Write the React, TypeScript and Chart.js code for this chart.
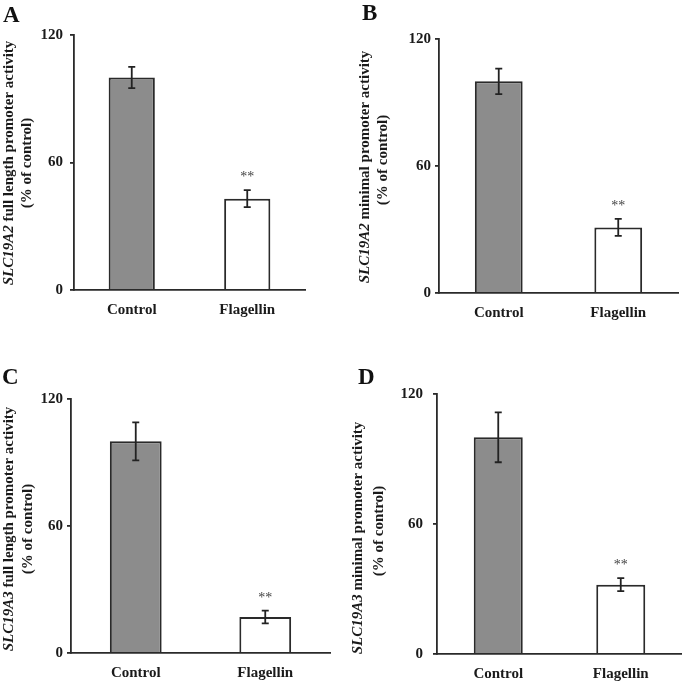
import React, { useEffect, useRef } from "react";
import { Chart, registerables } from "chart.js";

Chart.register(...registerables);

// ---------- data ----------
const categories = ["Control", "Flagellin"];
const panelLetters = ["A", "B", "C", "D"];
const geneNames = ["SLC19A2", "SLC19A2", "SLC19A3", "SLC19A3"];
const titleRest = [
  " full length promoter activity",
  " minimal promoter activity",
  " full length promoter activity",
  " minimal promoter activity",
];
const titleLine2 = "(% of control)";
const meansA = [100, 43];
const errA = [5, 4];
const meansB = [100, 31];
const errB = [6, 4];
const meansC = [100, 17];
const errC = [9, 3];
const meansD = [100, 32];
const errD = [11.5, 3];
const significance = ["", "**"];
const yTickValues = [0, 60, 120];
const yMin = 0;
const yMax = 120;

const allMeans = [meansA, meansB, meansC, meansD];
const allErrs = [errA, errB, errC, errD];

// ---------- layout (canvas-relative pixels) ----------
const FONT = '"Liberation Serif", "Times New Roman", serif';
const layouts = [
  { ox: 0, oy: 0, left: 74, top: 35, right: 305, bottom: 290, tickPad: 7, lx: 3, ly: 22, t1x: 9, t2x: 27, t1y: 163, t2y: 163 },
  { ox: 341, oy: 0, left: 98, top: 39, right: 337, bottom: 293, tickPad: 4, lx: 21, ly: 20, t1x: 24, t2x: 42, t1y: 167, t2y: 160 },
  { ox: 0, oy: 341, left: 71, top: 58, right: 330, bottom: 312, tickPad: 4, lx: 2, ly: 43, t1x: 9, t2x: 28, t1y: 188, t2y: 188 },
  { ox: 341, oy: 341, left: 96, top: 53, right: 341, bottom: 313, tickPad: 10, lx: 17, ly: 43, t1x: 17, t2x: 38, t1y: 197, t2y: 190 },
];
const SIZE = 341;

function makeOverlay(idx: number) {
  const L = layouts[idx];
  const means = allMeans[idx];
  const errs = allErrs[idx];
  return {
    id: "overlay" + idx,
    afterDatasetsDraw(chart: any) {
      const ctx = chart.ctx;
      const meta = chart.getDatasetMeta(0);
      const y = chart.scales.y;
      ctx.save();
      ctx.strokeStyle = "#222";
      ctx.lineWidth = 1.8;
      means.forEach((m, i) => {
        const x = meta.data[i].x;
        const yt = y.getPixelForValue(m + errs[i]);
        const yb = y.getPixelForValue(m - errs[i]);
        ctx.beginPath();
        ctx.moveTo(x, yt);
        ctx.lineTo(x, yb);
        ctx.moveTo(x - 3.5, yt);
        ctx.lineTo(x + 3.5, yt);
        ctx.moveTo(x - 3.5, yb);
        ctx.lineTo(x + 3.5, yb);
        ctx.stroke();
        if (significance[i]) {
          ctx.fillStyle = "#444";
          ctx.font = "14px " + FONT;
          ctx.textAlign = "center";
          ctx.textBaseline = "alphabetic";
          ctx.fillText(significance[i], x, yt - 9);
        }
      });
      ctx.restore();
    },
    afterDraw(chart: any) {
      const ctx = chart.ctx;
      ctx.save();
      // panel letter
      ctx.fillStyle = "#111";
      ctx.font = "bold 23px " + FONT;
      ctx.textAlign = "left";
      ctx.textBaseline = "alphabetic";
      ctx.fillText(panelLetters[idx], L.lx, L.ly);
      // y title line 1 (mixed italic)
      const italicFont = "italic bold 15px " + FONT;
      const boldFont = "bold 15px " + FONT;
      ctx.fillStyle = "#1a1a1a";
      ctx.font = italicFont;
      const w1 = ctx.measureText(geneNames[idx]).width;
      ctx.font = boldFont;
      const w2 = ctx.measureText(titleRest[idx]).width;
      ctx.save();
      ctx.translate(L.t1x, L.t1y);
      ctx.rotate(-Math.PI / 2);
      ctx.textBaseline = "middle";
      ctx.textAlign = "left";
      const start = -(w1 + w2) / 2;
      ctx.font = italicFont;
      ctx.fillText(geneNames[idx], start, 0);
      ctx.font = boldFont;
      ctx.fillText(titleRest[idx], start + w1, 0);
      ctx.restore();
      // y title line 2
      ctx.save();
      ctx.translate(L.t2x, L.t2y);
      ctx.rotate(-Math.PI / 2);
      ctx.textBaseline = "middle";
      ctx.textAlign = "center";
      ctx.font = boldFont;
      ctx.fillText(titleLine2, 0, 0);
      ctx.restore();
      ctx.restore();
    },
  };
}

function Panel({ idx }: { idx: number }) {
  const ref = useRef<HTMLCanvasElement | null>(null);
  useEffect(() => {
    const L = layouts[idx];
    const chart = new Chart(ref.current as HTMLCanvasElement, {
      type: "bar",
      data: {
        labels: categories,
        datasets: [
          {
            data: allMeans[idx],
            backgroundColor: ["#8c8c8c", "#ffffff"],
            borderColor: "#2a2a2a",
            borderWidth: 2,
            barPercentage: 0.4,
            categoryPercentage: 1,
          },
        ],
      },
      options: {
        animation: false,
        responsive: false,
        maintainAspectRatio: false,
        events: [],
        layout: {
          padding: { left: 0, top: L.top, right: SIZE - L.right, bottom: 0 },
        },
        plugins: { legend: { display: false }, tooltip: { enabled: false }, title: { display: false } },
        scales: {
          x: {
            grid: { display: false },
            border: { display: true, color: "#2a2a2a", width: 1.8 },
            ticks: { color: "#1a1a1a", padding: 3, font: { family: FONT, size: 15, weight: "bold" } },
            afterFit: (s: any) => {
              s.height = SIZE - L.bottom;
            },
          },
          y: {
            min: yMin,
            max: yMax,
            grid: { display: true, drawOnChartArea: false, drawTicks: true, tickLength: 4, color: "#2a2a2a", lineWidth: 1.8 },
            border: { display: true, color: "#2a2a2a", width: 1.8 },
            ticks: { color: "#1a1a1a", padding: L.tickPad, font: { family: FONT, size: 15, weight: "bold" } },
            afterBuildTicks: (s: any) => {
              s.ticks = yTickValues.map((v) => ({ value: v }));
            },
            afterFit: (s: any) => {
              s.width = L.left;
            },
          },
        },
      },
      plugins: [makeOverlay(idx)],
    } as any);
    return () => chart.destroy();
  }, [idx]);
  const L = layouts[idx];
  return (
    <canvas
      ref={ref}
      width={SIZE}
      height={SIZE}
      style={{ position: "absolute", left: L.ox, top: L.oy, width: SIZE, height: SIZE }}
    />
  );
}

export default function App() {
  return (
    <div style={{ position: "absolute", left: 0, top: 0, width: 682, height: 682, background: "#fff", overflow: "hidden" }}>
      {[0, 1, 2, 3].map((i) => (
        <Panel key={i} idx={i} />
      ))}
    </div>
  );
}
